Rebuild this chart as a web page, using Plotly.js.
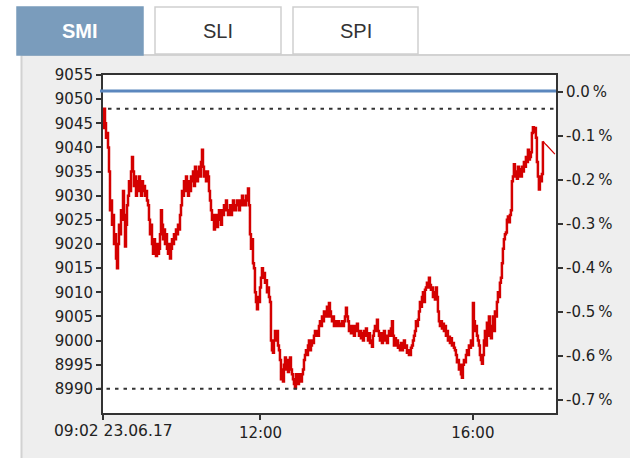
<!DOCTYPE html>
<html>
<head>
<meta charset="utf-8">
<script src="https://cdn.plot.ly/plotly-3.0.1.min.js"></script>
<style>
  html, body { margin: 0; padding: 0; background: #ffffff; }
  #chart { width: 630px; height: 458px; }
</style>
</head>
<body>
<div id="chart"></div>
<script>
// ---------- DATA ----------
const tabLabels = ['SMI', 'SLI', 'SPI'];
const activeTab = 'SMI';

const sessionDate = '2017-06-23';
const startTime = '09:02';
const endTime = '17:34';
const sampleMinutes = 1.13;   // spacing between readings

const prevClose = 9051.7;   // 0.0 % reference (blue line)
const dayHigh = 9048;       // upper dotted line
const dayLow = 8990;        // lower dotted line

// SMI intraday readings
const smiValues = [
  9044, 9048, 9045, 9042, 9043, 9040, 9035, 9027, 9029, 9024,
  9026, 9020, 9022, 9017, 9015, 9020, 9024, 9022, 9027, 9025,
  9031, 9026, 9019.5, 9024, 9028, 9030, 9033, 9031, 9035, 9038,
  9035, 9032, 9034, 9030, 9033, 9031, 9034, 9032, 9030, 9033,
  9031, 9032, 9030, 9031, 9029, 9028, 9025, 9022, 9024, 9020,
  9018, 9021, 9019, 9017.5, 9020, 9018, 9019, 9022, 9027, 9024,
  9021, 9023, 9020, 9022, 9019, 9018, 9020, 9017, 9019, 9021,
  9020, 9022, 9021, 9023, 9022, 9024, 9023, 9026, 9028, 9031,
  9030, 9033, 9031, 9034, 9032, 9030, 9033, 9031, 9034, 9033,
  9035, 9032, 9036, 9034, 9033, 9035, 9036, 9034, 9037, 9039.5,
  9036, 9034, 9035, 9033, 9035, 9034, 9031, 9029, 9027, 9025,
  9026, 9023, 9024, 9026, 9023.5, 9025, 9027, 9026, 9024, 9027,
  9026, 9028, 9027, 9029, 9027, 9026, 9027, 9028, 9026, 9027,
  9029, 9028, 9027, 9028, 9029, 9028, 9027, 9029, 9028, 9030,
  9028, 9029, 9028, 9030, 9029, 9031.5, 9028, 9022, 9019, 9021,
  9016, 9015, 9010, 9008, 9006.5, 9009, 9008, 9011, 9013, 9015,
  9013, 9014, 9012, 9012.5, 9010, 9011, 9009, 9008, 9000, 8998,
  8997.5, 9000, 9002, 9000, 9002, 8999, 8998, 8996, 8992, 8994,
  8991.5, 8995, 8996.5, 8994, 8996, 8993.5, 8995, 8996.5, 8994, 8993,
  8992, 8991, 8990.2, 8993, 8992, 8991, 8993, 8992, 8991.5, 8993,
  8994, 8996, 8997, 8998, 8997, 8999, 9000, 8998, 8999, 9000,
  8999.5, 9001, 9002, 9001, 9002, 9001, 9003, 9004, 9003, 9005,
  9004, 9006, 9005, 9006, 9007, 9005, 9007.8, 9006, 9005, 9004,
  9005, 9003, 9004, 9003.5, 9003, 9004, 9003, 9003.5, 9003, 9004,
  9003, 9004, 9005, 9006.8, 9005, 9004, 9002, 9003, 9001.5, 9003,
  9002, 9001, 9003, 9002, 9003.5, 9002, 9001, 9002, 9000.5, 9001.5,
  9000, 9002, 9001, 9002.5, 9001, 9000, 9001.5, 8999.5, 9000, 8998.7,
  9001, 9002, 9003, 9002, 9004.3, 9002, 9001, 9000, 9001.5, 8999.5,
  9000.5, 9002, 9000, 9001, 8999.5, 9001, 9002, 9001, 9002.5, 9004,
  9001, 8999, 9000.5, 8999, 9000, 8998.5, 8999, 8998, 8999.5, 8998,
  8999, 9000, 8998.5, 8999, 8997.5, 8998, 8997, 8997, 8998.5, 8999,
  9000, 9001, 9002, 9004, 9003, 9004.3, 9006, 9008, 9007, 9009,
  9010, 9008, 9010.5, 9011, 9012, 9011, 9013, 9011.5, 9010.5, 9011,
  9009, 9010, 9008.5, 9011, 9009, 9006, 9004, 9003, 9004, 9002.5,
  9003.5, 9002, 9003, 9001, 9002, 9000, 9000.8, 8999.5, 9000.5, 8999,
  8999.5, 8998.5, 8998, 8997, 8995.5, 8996, 8994, 8995, 8993, 8992.3,
  8995, 8996, 8995.5, 8997, 8998, 8997, 8999, 8998.5, 9000, 8999,
  9007.8, 9004, 9002, 9003, 9001, 9000, 8999, 8997, 8996, 8995.2,
  8997, 9000, 9002, 8999, 9003.7, 9001, 9005, 9003, 9000.5, 9003,
  9005, 9002, 9006, 9005, 9008, 9010, 9009, 9012, 9013, 9016,
  9019, 9021, 9022, 9022.4, 9025, 9025.7, 9024.5, 9026, 9027, 9033,
  9034, 9036.5, 9034, 9035, 9033.5, 9036, 9034, 9035.5, 9034, 9036,
  9035, 9037, 9036, 9038, 9037, 9039.5, 9037.5, 9038, 9039, 9043,
  9044.2, 9043.2, 9044, 9042, 9037, 9034, 9031.3, 9034, 9033, 9034.5,
  9041.3, 9041.0, 9040.8, 9040.6, 9040.4, 9040.2, 9040.0, 9039.8, 9039.6, 9039.3,
  9039.0, 9038.8, 9038.6
];
const closingAuctionIndex = 440;  // start of the thin closing segment

// tick labels
const leftTickVals = [8990, 8995, 9000, 9005, 9010, 9015, 9020, 9025, 9030, 9035, 9040, 9045, 9050, 9055];
const leftTickText = leftTickVals.map(String);
const rightTickVals = [0, -0.1, -0.2, -0.3, -0.4, -0.5, -0.6, -0.7];
const rightTickText = ['0.0\u2009%', '-0.1\u2009%', '-0.2\u2009%', '-0.3\u2009%', '-0.4\u2009%', '-0.5\u2009%', '-0.6\u2009%', '-0.7\u2009%'];
const xTickTimes = ['09:02', '12:00', '16:00'];
const xTickText = ['09:02 23.06.17', '12:00', '16:00'];

// ---------- BUILD ----------
function stamp(hhmm) { return sessionDate + ' ' + hhmm + ':00'; }
const t0 = Date.UTC(2017, 5, 23, 9, 2, 0);
const times = smiValues.map((v, i) => {
  const d = new Date(t0 + Math.round(i * sampleMinutes * 60000));
  return d.toISOString().replace('T', ' ').slice(0, 19);
});

const W = 630, H = 458;
const M = { l: 103, r: 74, t: 75, b: 45 };
const PW = W - M.l - M.r, PH = H - M.t - M.b;
const px = x => (x - M.l) / PW;
const py = y => (H - M.b - y) / PH;

const FONT = 'DejaVu Sans';
const tickFont = { family: FONT, size: 15, color: '#222222' };

const traces = [
  {
    x: times.slice(0, closingAuctionIndex + 1),
    y: smiValues.slice(0, closingAuctionIndex + 1),
    type: 'scatter', mode: 'lines',
    line: { color: '#d40000', width: 2.5, shape: 'hv' },
    hoverinfo: 'skip', showlegend: false
  },
  {
    x: times.slice(closingAuctionIndex),
    y: smiValues.slice(closingAuctionIndex),
    type: 'scatter', mode: 'lines',
    line: { color: '#d40000', width: 1.2 },
    hoverinfo: 'skip', showlegend: false
  },
  { x: [], y: [], yaxis: 'y2', type: 'scatter', mode: 'lines', showlegend: false, hoverinfo: 'skip' }
];

const shapes = [];
// white header strip & left margin
shapes.push({ type: 'rect', xref: 'paper', yref: 'paper', x0: px(-5), x1: px(640), y0: py(55), y1: py(-5), fillcolor: '#ffffff', line: { width: 0 }, layer: 'below' });
shapes.push({ type: 'rect', xref: 'paper', yref: 'paper', x0: px(-5), x1: px(21), y0: py(470), y1: py(-5), fillcolor: '#ffffff', line: { width: 0 }, layer: 'below' });
// panel border lines
shapes.push({ type: 'line', xref: 'paper', yref: 'paper', x0: px(21), x1: px(640), y0: py(55), y1: py(55), line: { color: '#d2d2d2', width: 2 }, layer: 'below' });
shapes.push({ type: 'line', xref: 'paper', yref: 'paper', x0: px(21.5), x1: px(21.5), y0: py(55), y1: py(470), line: { color: '#d2d2d2', width: 2 }, layer: 'below' });
// tabs
const tabX = [[17, 143], [155, 281], [293, 418]];
const annotations = [];
tabLabels.forEach((lab, i) => {
  const active = lab === activeTab;
  shapes.push({
    type: 'rect', xref: 'paper', yref: 'paper',
    x0: px(tabX[i][0]), x1: px(tabX[i][1]), y0: py(active ? 55 : 54), y1: py(7),
    fillcolor: active ? '#7a9cbc' : '#ffffff',
    line: { color: active ? '#7a9cbc' : '#cfcfcf', width: 1.5 }, layer: 'below'
  });
  annotations.push({
    xref: 'paper', yref: 'paper', x: px((tabX[i][0] + tabX[i][1]) / 2), y: py(31),
    xanchor: 'center', yanchor: 'middle', showarrow: false, text: active ? '<b>' + lab + '</b>' : lab,
    font: { family: 'Liberation Sans', size: 20, color: active ? '#ffffff' : '#333333' }
  });
});
// reference lines
shapes.push({ type: 'line', xref: 'paper', yref: 'y', x0: px(100), x1: 1, y0: prevClose, y1: prevClose, line: { color: '#5b87be', width: 3 } });
shapes.push({ type: 'line', xref: 'paper', yref: 'y', x0: px(108), x1: 1, y0: dayHigh, y1: dayHigh, line: { color: '#333333', width: 2, dash: '3.5px,5px' } });
shapes.push({ type: 'line', xref: 'paper', yref: 'y', x0: px(98), x1: 1, y0: dayLow, y1: dayLow, line: { color: '#333333', width: 2, dash: '3.5px,5px' } });

// date label of the first tick
annotations.push({
  xref: 'paper', yref: 'paper', x: px(52), y: py(431), xanchor: 'left', yanchor: 'middle',
  showarrow: false, text: xTickText[0], font: { family: FONT, size: 15.5, color: '#222222' }
});

const layout = {
  width: W, height: H,
  margin: M,
  paper_bgcolor: '#eeeeee',
  plot_bgcolor: '#ffffff',
  showlegend: false,
  xaxis: {
    type: 'date',
    range: [stamp(startTime), stamp(endTime)],
    tickvals: xTickTimes.map(stamp),
    ticktext: xTickText.map((t, i) => i === 0 ? '' : t),
    ticks: 'outside', ticklen: 5, tickwidth: 2, tickcolor: '#333333',
    showline: true, linecolor: '#333333', linewidth: 2, mirror: true,
    showgrid: false, zeroline: false,
    tickfont: tickFont, fixedrange: true
  },
  yaxis: {
    range: [8985, 9055],
    tickvals: leftTickVals, ticktext: leftTickText,
    ticks: 'outside', ticklen: 5, tickwidth: 2, tickcolor: '#333333',
    showline: true, linecolor: '#333333', linewidth: 2,
    showgrid: false, zeroline: false,
    tickfont: tickFont, fixedrange: true
  },
  yaxis2: {
    overlaying: 'y', side: 'right', anchor: 'x',
    range: [-0.7302, 0.0387],
    tickvals: rightTickVals, ticktext: rightTickText,
    ticks: 'outside', ticklen: 5, tickwidth: 2, tickcolor: '#333333',
    showline: true, linecolor: '#333333', linewidth: 2,
    showgrid: false, zeroline: false,
    tickfont: tickFont, fixedrange: true
  },
  shapes: shapes,
  annotations: annotations
};

Plotly.newPlot('chart', traces, layout, { displayModeBar: false, staticPlot: true });
</script>
</body>
</html>
